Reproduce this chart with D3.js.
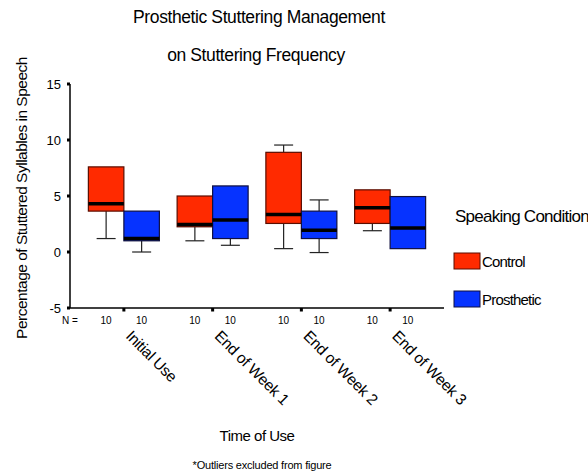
<!DOCTYPE html>
<html>
<head>
<meta charset="utf-8">
<script src="https://cdn.jsdelivr.net/npm/d3@7"></script>
<style>
  body { margin: 0; background: #fff; }
  text { font-family: "Liberation Sans", Arial, sans-serif; fill: #000; }
</style>
</head>
<body>
<div id="chart"></div>
<script>
var svgWidth = 588;
var svgHeight = 474;

// data
var categories = ["Initial Use", "End of Week 1", "End of Week 2", "End of Week 3"];
var conditions = ["Control", "Prosthetic"];
var colors = ["#ff2a00", "#0633ff"];
var counts = [10, 10, 10, 10];

var controlLow = [1.2, 1.0, 0.3, 1.9];
var controlQ1 = [3.65, 2.25, 2.55, 2.55];
var controlMedian = [4.3, 2.45, 3.35, 3.95];
var controlQ3 = [7.6, 5.0, 8.9, 5.55];
var controlHigh = [7.6, 5.0, 9.55, 5.55];

var prostheticLow = [0, 0.6, -0.05, 0.3];
var prostheticQ1 = [1.0, 1.2, 1.2, 0.3];
var prostheticMedian = [1.2, 2.85, 1.95, 2.15];
var prostheticQ3 = [3.65, 5.9, 3.65, 4.95];
var prostheticHigh = [3.65, 5.9, 4.65, 4.95];

var yTicks = [-5, 0, 5, 10, 15];

var svg = d3.select("#chart")
  .append("svg")
  .attr("width", svgWidth)
  .attr("height", svgHeight);

// scales
var x = d3.scaleBand()
  .domain(categories)
  .range([79.5, 434.5]);

var xSub = d3.scaleBand()
  .domain(conditions)
  .range([0, x.bandwidth()])
  .paddingOuter(0.25);

var y = d3.scaleLinear()
  .domain([-5, 15])
  .range([308, 84]);

// build box rows
var boxes = [];
categories.forEach(function(c, i) {
  boxes.push({cat: c, cond: "Control", n: counts[i], low: controlLow[i], q1: controlQ1[i], med: controlMedian[i], q3: controlQ3[i], high: controlHigh[i]});
  boxes.push({cat: c, cond: "Prosthetic", n: counts[i], low: prostheticLow[i], q1: prostheticQ1[i], med: prostheticMedian[i], q3: prostheticQ3[i], high: prostheticHigh[i]});
});

// axes
svg.append("line")
  .attr("x1", 70).attr("x2", 70)
  .attr("y1", y(15)).attr("y2", y(-5))
  .attr("stroke", "#000").attr("stroke-width", 1.5);

svg.append("line")
  .attr("x1", 70).attr("x2", 444)
  .attr("y1", y(-5)).attr("y2", y(-5))
  .attr("stroke", "#000").attr("stroke-width", 1.5);

svg.selectAll(".ytick")
  .data(yTicks)
  .enter().append("rect")
  .attr("x", 67).attr("y", d => y(d) - 1.5)
  .attr("width", 3).attr("height", 3)
  .attr("fill", "#000");

svg.selectAll(".ylab")
  .data(yTicks)
  .enter().append("text")
  .attr("x", 61).attr("y", d => y(d) + 4.5)
  .attr("text-anchor", "end")
  .attr("font-size", 13)
  .text(d => d);

svg.selectAll(".xtick")
  .data(categories)
  .enter().append("rect")
  .attr("x", d => x(d) + x.bandwidth() / 2 - 1.5)
  .attr("y", y(-5))
  .attr("width", 3).attr("height", 3.5)
  .attr("fill", "#000");

// whiskers
var g = svg.append("g");
var bw = xSub.bandwidth();

boxes.forEach(function(b) {
  var cx = x(b.cat) + xSub(b.cond) + bw / 2;
  if (b.low < b.q1) {
    g.append("line").attr("x1", cx).attr("x2", cx).attr("y1", y(b.q1)).attr("y2", y(b.low))
      .attr("stroke", "#222").attr("stroke-width", 1.2);
    g.append("line").attr("x1", cx - 9.5).attr("x2", cx + 9.5).attr("y1", y(b.low)).attr("y2", y(b.low))
      .attr("stroke", "#222").attr("stroke-width", 1.2);
  }
  if (b.high > b.q3) {
    g.append("line").attr("x1", cx).attr("x2", cx).attr("y1", y(b.q3)).attr("y2", y(b.high))
      .attr("stroke", "#222").attr("stroke-width", 1.2);
    g.append("line").attr("x1", cx - 9.5).attr("x2", cx + 9.5).attr("y1", y(b.high)).attr("y2", y(b.high))
      .attr("stroke", "#222").attr("stroke-width", 1.2);
  }
});

// boxes
g.selectAll(".box")
  .data(boxes)
  .enter().append("rect")
  .attr("x", d => x(d.cat) + xSub(d.cond))
  .attr("y", d => y(d.q3))
  .attr("width", bw)
  .attr("height", d => y(d.q1) - y(d.q3))
  .attr("fill", d => colors[conditions.indexOf(d.cond)])
  .attr("stroke", d => d.cond == "Control" ? "#5a0d00" : "#101040")
  .attr("stroke-width", 1.2);

g.selectAll(".median")
  .data(boxes)
  .enter().append("line")
  .attr("x1", d => x(d.cat) + xSub(d.cond))
  .attr("x2", d => x(d.cat) + xSub(d.cond) + bw)
  .attr("y1", d => y(d.med))
  .attr("y2", d => y(d.med))
  .attr("stroke", "#000")
  .attr("stroke-width", 3.5);

// N counts
svg.append("text")
  .attr("x", 62).attr("y", 324)
  .attr("font-size", 10)
  .text("N =");

svg.selectAll(".ncount")
  .data(boxes)
  .enter().append("text")
  .attr("x", d => x(d.cat) + xSub(d.cond) + bw / 2)
  .attr("y", 324)
  .attr("text-anchor", "middle")
  .attr("font-size", 10)
  .text(d => d.n);

// category labels
svg.selectAll(".xlab")
  .data(categories)
  .enter().append("text")
  .attr("transform", d => "translate(" + (x(d) + x.bandwidth() / 2 + 1) + ",337) rotate(45)")
  .attr("font-size", 15.5)
  .attr("letter-spacing", -0.3)
  .text(d => d);

// titles
svg.append("text")
  .attr("x", 259).attr("y", 23)
  .attr("text-anchor", "middle")
  .attr("font-size", 17.5)
  .attr("letter-spacing", -0.4)
  .text("Prosthetic Stuttering Management");

svg.append("text")
  .attr("x", 256).attr("y", 61)
  .attr("text-anchor", "middle")
  .attr("font-size", 17.5)
  .attr("letter-spacing", -0.4)
  .text("on Stuttering Frequency");

svg.append("text")
  .attr("transform", "translate(27,198) rotate(-90)")
  .attr("text-anchor", "middle")
  .attr("font-size", 15.5)
  .attr("letter-spacing", -0.5)
  .text("Percentage of Stuttered Syllables in Speech");

svg.append("text")
  .attr("x", 257).attr("y", 441)
  .attr("text-anchor", "middle")
  .attr("font-size", 15)
  .attr("letter-spacing", -0.5)
  .text("Time of Use");

svg.append("text")
  .attr("x", 262).attr("y", 469)
  .attr("text-anchor", "middle")
  .attr("font-size", 11)
  .attr("letter-spacing", -0.2)
  .text("*Outliers excluded from figure");

// legend
svg.append("text")
  .attr("x", 455).attr("y", 222)
  .attr("font-size", 17)
  .attr("letter-spacing", -0.75)
  .text("Speaking Condition");

var legend = svg.selectAll(".legend")
  .data(conditions)
  .enter().append("g")
  .attr("transform", (d, i) => "translate(454," + (253 + i * 38) + ")");

legend.append("rect")
  .attr("width", 26).attr("height", 16)
  .attr("fill", (d, i) => colors[i])
  .attr("stroke", (d, i) => i == 0 ? "#5a0d00" : "#101040")
  .attr("stroke-width", 1);

legend.append("text")
  .attr("x", 28).attr("y", 14)
  .attr("font-size", 15)
  .attr("letter-spacing", -0.8)
  .text(d => d);
</script>
</body>
</html>
